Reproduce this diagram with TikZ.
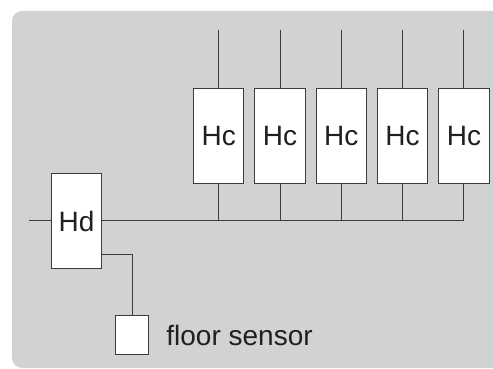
\documentclass[tikz,border=0pt]{standalone}
\usepackage{fontspec}
\setmainfont{Liberation Sans}
\usepackage{xcolor}
\usepackage{tikz}
\usetikzlibrary{positioning,calc}
\definecolor{pBack}{RGB}{209,210,212}
\definecolor{pLine}{RGB}{60,60,60}
\definecolor{pText}{RGB}{35,31,32}
\tikzset{
  heater/.style={rectangle, draw=pLine, fill=white, line width=1pt,
                 minimum width=50.5pt, minimum height=95.5pt, inner sep=0pt,
                 text=pText, font=\fontsize{28}{32}\selectfont},
  sensor/.style={rectangle, draw=pLine, fill=white, line width=1pt,
                 minimum width=33.4pt, minimum height=38.3pt, inner sep=0pt},
  wire/.style={draw=pLine, line width=1pt},
  lbl/.style={text=pText, inner sep=0pt, font=\fontsize{28}{32}\selectfont},
}

\begin{document}
\begin{tikzpicture}[x=1pt, y=1pt, node distance=9.8pt]
  \useasboundingbox (0,0) rectangle (493,369);
  % panel, open at the right edge of the page
  \fill[pBack] (493,1) -- (22,1) arc[start angle=270, end angle=180, radius=10]
    -- (12,348) arc[start angle=180, end angle=90, radius=10] -- (493,358) -- cycle;
  % distribution unit and the row of heaters
  \node[heater] (hd) at (76.5,148) {Hd};
  \node[heater] (hc1) at (218.7,233) {Hc};
  \node[heater, right=of hc1] (hc2) {Hc};
  \node[heater, right=of hc2] (hc3) {Hc};
  \node[heater, right=of hc3] (hc4) {Hc};
  \node[heater, right=of hc4] (hc5) {Hc};
  \node[sensor] (fs) at (132,34) {};
  \node[lbl, right=17pt of fs] (fslbl) {floor sensor};
  % wiring
  \draw[wire] ([xshift=-21.6pt]hd.west) -- (hd.west);
  \draw[wire] (hd.east) -- (hd.east -| hc5.south);
  \foreach \h in {hc1,hc2,hc3,hc4,hc5}{
    \draw[wire] (\h.south) -- (\h.south |- hd.east);
    \draw[wire] (\h.north) -- ++(0,57.3);
  }
  \draw[wire] ([yshift=-33.8pt]hd.east) -| (fs.north);
\end{tikzpicture}
\end{document}
